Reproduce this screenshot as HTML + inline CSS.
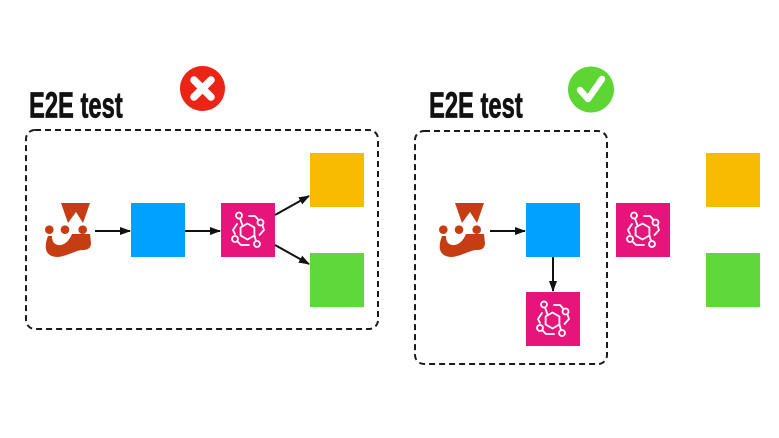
<!DOCTYPE html>
<html>
<head>
<meta charset="utf-8">
<style>
  html,body{margin:0;padding:0;background:#fff;}
  body{width:779px;height:438px;overflow:hidden;position:relative;}
  svg{position:absolute;left:0;top:0;}
  .title{font-family:"Liberation Sans",sans-serif;font-weight:700;font-size:36px;fill:#111;stroke:#111;stroke-width:0.7;}
</style>
</head>
<body>
<svg width="779" height="438" viewBox="0 0 779 438" xmlns="http://www.w3.org/2000/svg">
  <defs>
    <marker id="ah" markerWidth="11" markerHeight="10" refX="10" refY="5" orient="auto" markerUnits="userSpaceOnUse">
      <path d="M0,1 L11,5 L0,9 Z" fill="#111"/>
    </marker>
    <g id="jest">
      <path d="M18,0 L47,0 L40,20 L33,9 L25,20 Z" fill="#C63D14"/>
      <circle cx="6.3" cy="26.7" r="4.3" fill="#C63D14"/>
      <circle cx="22" cy="26.7" r="4.3" fill="#C63D14"/>
      <circle cx="39.7" cy="26.7" r="4.3" fill="#C63D14"/>
      <path d="M5,33 C3,38 1.5,45 4,49 C7,54 14,55 20,53 C28,51 34,47 40,47 C45,47 48,45 48,40 L47,31 L29,31 C26,38 21,43 15,42 C10,41 9,37 9,33 Z" fill="#C63D14"/>
    </g>
    <g id="eb">
      <rect x="0" y="0" width="54" height="54" fill="#E7157B"/>
      <g fill="none" stroke="#fff" stroke-width="1.8" stroke-linejoin="round" stroke-linecap="round">
        <polygon points="26.5,20.5 33.4,24.5 33.4,32.5 26.5,36.5 19.6,32.5 19.6,24.5"/>
        <circle cx="18" cy="12.5" r="3"/>
        <circle cx="39.5" cy="19.5" r="3"/>
        <circle cx="14" cy="36" r="3"/>
        <circle cx="36" cy="41" r="3"/>
        <path d="M19,15.5 L21.5,22.5"/>
        <path d="M28,13 L34,13 L37,16.5"/>
        <path d="M41.5,22.5 L43,27 L38.5,32"/>
        <path d="M16,21 L12,27 L14,31"/>
        <path d="M16.5,38.5 L20,42 L28,42"/>
        <path d="M33.4,32.5 L35,38"/>
      </g>
    </g>
  </defs>

  <!-- LEFT DIAGRAM -->
  <text class="title" x="29" y="117.5" transform="translate(29 0) scale(0.66 1) translate(-29 0)">E2E test</text>
  <circle cx="202.5" cy="88.5" r="22.5" fill="#EB2516"/>
  <path d="M194,80 L211,97 M211,80 L194,97" stroke="#fff" stroke-width="7.5" stroke-linecap="round"/>

  <rect x="26" y="130" width="352" height="199" rx="9" ry="9" fill="none" stroke="#1a1a1a" stroke-width="2" stroke-dasharray="6 4"/>

  <use href="#jest" x="43" y="203"/>
  <rect x="131" y="203" width="54" height="54" fill="#00A1FF"/>
  <use href="#eb" x="221" y="203"/>
  <rect x="310" y="153" width="54" height="54" fill="#F8BB00"/>
  <rect x="310" y="253" width="54" height="54" fill="#5ED83A"/>

  <line x1="95" y1="231" x2="130" y2="231" stroke="#111" stroke-width="2" marker-end="url(#ah)"/>
  <line x1="185" y1="231" x2="220" y2="231" stroke="#111" stroke-width="2" marker-end="url(#ah)"/>
  <line x1="275" y1="215" x2="309" y2="196" stroke="#111" stroke-width="2" marker-end="url(#ah)"/>
  <line x1="275" y1="245" x2="309" y2="264" stroke="#111" stroke-width="2" marker-end="url(#ah)"/>

  <!-- RIGHT DIAGRAM -->
  <text class="title" x="429" y="117.5" transform="translate(429 0) scale(0.66 1) translate(-429 0)">E2E test</text>
  <circle cx="591" cy="89.5" r="23" fill="#5DD634"/>
  <path d="M580,90 L588,99 L602,79" fill="none" stroke="#fff" stroke-width="6.5" stroke-linecap="round" stroke-linejoin="round"/>

  <rect x="415" y="131" width="192" height="233" rx="9" ry="9" fill="none" stroke="#1a1a1a" stroke-width="2" stroke-dasharray="6 4"/>

  <use href="#jest" x="437" y="203"/>
  <rect x="526" y="203" width="54" height="54" fill="#00A1FF"/>
  <use href="#eb" x="526" y="292"/>
  <use href="#eb" x="616" y="203"/>
  <rect x="706" y="153" width="54" height="54" fill="#F8BB00"/>
  <rect x="706" y="253" width="54" height="54" fill="#5ED83A"/>

  <line x1="490" y1="231" x2="525" y2="231" stroke="#111" stroke-width="2" marker-end="url(#ah)"/>
  <line x1="553" y1="257" x2="553" y2="291" stroke="#111" stroke-width="2" marker-end="url(#ah)"/>
</svg>
</body>
</html>
